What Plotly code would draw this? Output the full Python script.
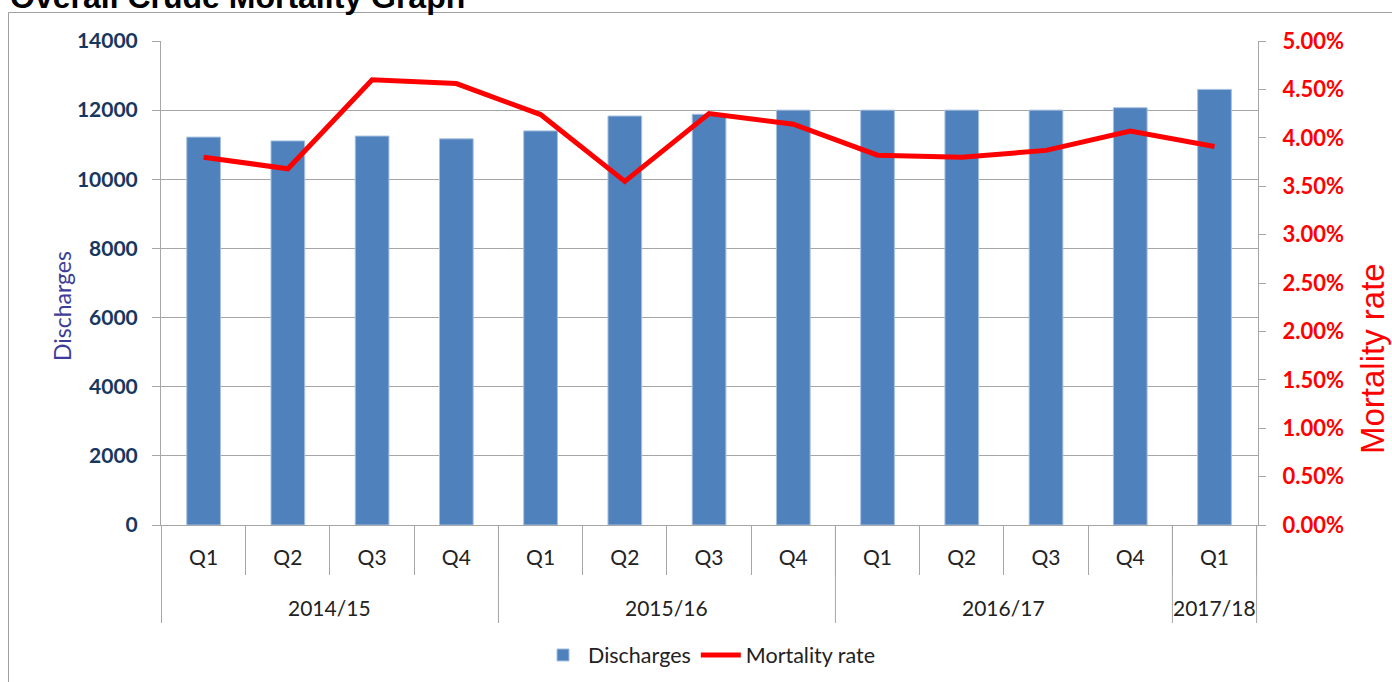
import plotly.graph_objects as go

years = ["2014/15"] * 4 + ["2015/16"] * 4 + ["2016/17"] * 4 + ["2017/18"]
quarters = ["Q1", "Q2", "Q3", "Q4", "Q1", "Q2", "Q3", "Q4", "Q1", "Q2", "Q3", "Q4", "Q1"]
discharges = [11220, 11110, 11250, 11170, 11400, 11830, 11880, 12000, 12000, 12000, 12000, 12070, 12600]
mortality = [0.0380, 0.0368, 0.0460, 0.0456, 0.0424, 0.0355, 0.0425, 0.0414, 0.0382, 0.0380, 0.0387, 0.0407, 0.0391]

categories = [f"{y} {q}" for y, q in zip(years, quarters)]

FONT = "Lato"
GRID = "#A6A6A6"

fig = go.Figure()
fig.add_trace(go.Bar(
    x=categories, y=discharges, name="Discharges",
    marker=dict(color="#4F81BD", line=dict(color="#A7C0E0", width=1)),
    yaxis="y",
))
fig.add_trace(go.Scatter(
    x=categories, y=mortality, name="Mortality rate",
    mode="lines", line=dict(color="#FF0000", width=5),
    yaxis="y2",
))

fig.update_layout(
    width=1392, height=682,
    margin=dict(l=161, r=134, t=41, b=157, autoexpand=False),
    paper_bgcolor="white", plot_bgcolor="white",
    bargap=0.6,
    font=dict(family=FONT, size=20, color="#222222"),
    showlegend=True,
    legend=dict(orientation="h", x=0.5, xanchor="center", y=(525 - 655) / 484, yanchor="middle",
                font=dict(family=FONT, size=21.5, color="#222222"), itemwidth=40, tracegroupgap=0),
    xaxis=dict(
        type="category", categoryorder="array", categoryarray=categories,
        tickvals=categories, ticktext=quarters,
        showline=True, linecolor=GRID, linewidth=1,
        ticks="outside", tickson="boundaries", ticklen=49, tickcolor=GRID, tickwidth=1,
        ticklabelstandoff=14,
        tickfont=dict(family=FONT, size=21, color="#222222"),
        showgrid=False, automargin=False,
    ),
    yaxis=dict(
        range=[0, 14000], dtick=2000, tickformat="d",
        showline=True, linecolor=GRID, linewidth=1,
        ticks="outside", ticklen=8, tickcolor=GRID,
        ticklabelstandoff=10,
        showgrid=True, gridcolor=GRID, gridwidth=1,
        tickfont=dict(family=FONT, size=21, color="#17375E", weight="bold"),
        zeroline=False, automargin=False,
    ),
    yaxis2=dict(
        range=[0, 0.05], dtick=0.005, tickformat=".2%",
        overlaying="y", side="right",
        showline=True, linecolor=GRID, linewidth=1,
        ticks="outside", ticklen=7, tickcolor=GRID,
        ticklabelstandoff=12,
        showgrid=False, zeroline=False, automargin=False,
        tickfont=dict(family=FONT, size=22, color="#FF0000", weight="bold"),
    ),
)

# axis titles
fig.add_annotation(text="Discharges", xref="paper", yref="paper",
                   x=(62 - 161) / 1097, y=(525 - 306) / 484, textangle=-90,
                   xanchor="center", yanchor="middle", showarrow=False,
                   font=dict(family=FONT, size=23, color="#3D3D99"))
fig.add_annotation(text="Mortality rate", xref="paper", yref="paper",
                   x=(1373 - 161) / 1097, y=(525 - 359) / 484, textangle=-90,
                   xanchor="center", yanchor="middle", showarrow=False,
                   font=dict(family="Liberation Sans", size=33, color="#FF0000"))

# year groups: labels and dividers derived from the data
groups = []
for i, y in enumerate(years):
    if groups and groups[-1][0] == y:
        groups[-1][2] = i
    else:
        groups.append([y, i, i])
for name, start, end in groups:
    fig.add_shape(type="line", xref="x", yref="paper", x0=start - 0.5, x1=start - 0.5,
                  y0=0, y1=-(623 - 525) / 484, line=dict(color=GRID, width=1))
    fig.add_annotation(text=name, xref="x", yref="paper", x=(start + end) / 2,
                       y=-(607 - 525) / 484, xanchor="center", yanchor="middle",
                       showarrow=False, font=dict(family=FONT, size=21, color="#222222"))
last_end = groups[-1][2]
fig.add_shape(type="line", xref="x", yref="paper", x0=last_end + 0.5, x1=last_end + 0.5,
              y0=0, y1=-(623 - 525) / 484, line=dict(color=GRID, width=1))

fig.add_annotation(
    text="<b>Overall Crude Mortality Graph</b>", xref="paper", yref="paper",
    x=(8 - 161) / 1097, y=1.09, xanchor="left", yanchor="middle", showarrow=False,
    font=dict(family="Liberation Sans", size=32, color="#000000"),
)
fig.add_shape(type="rect", xref="paper", yref="paper",
              x0=(8.5 - 161) / 1097, x1=1.3, y0=-0.5, y1=(525 - 12.5) / 484,
              line=dict(color="#A0A0A0", width=1), fillcolor="rgba(0,0,0,0)", layer="below")

fig.write_html("out.html", config={"displayModeBar": False},
               post_script="document.body.style.margin='0px';")
